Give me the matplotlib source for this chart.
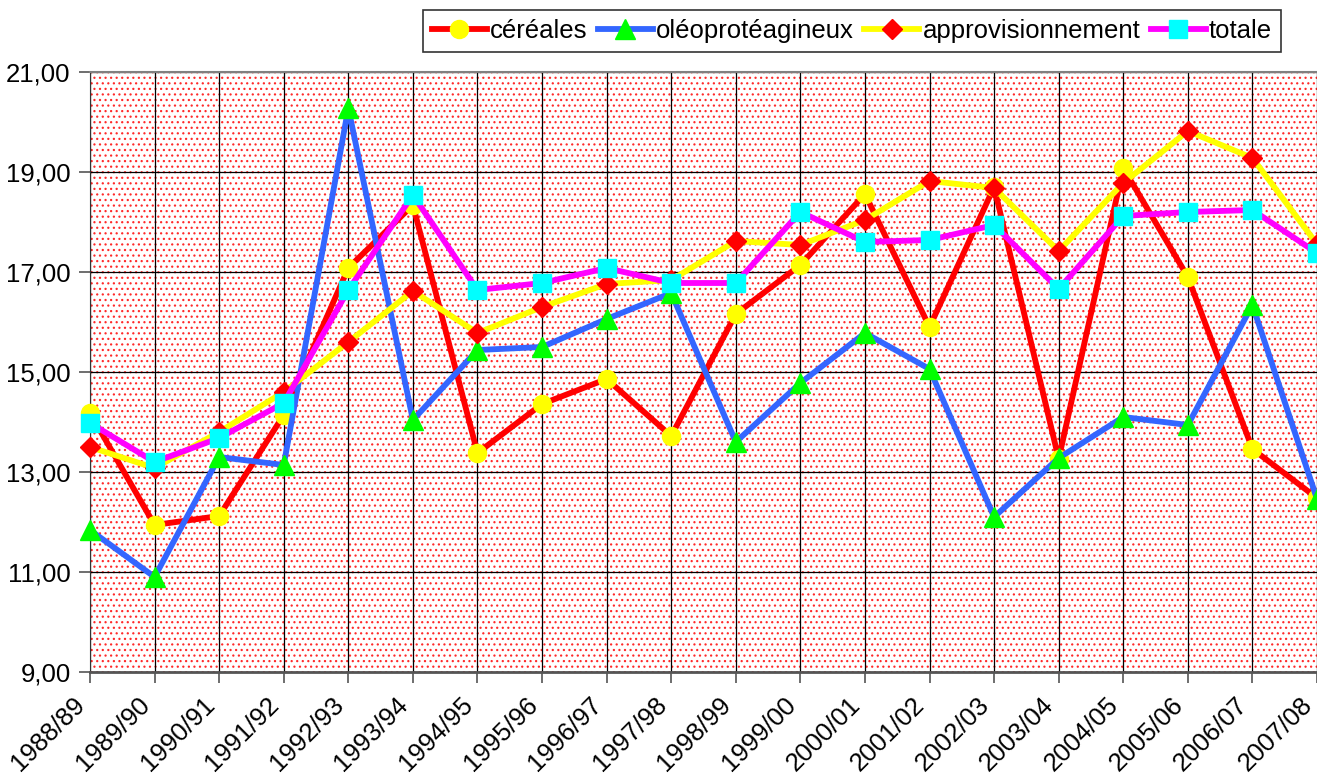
import matplotlib.pyplot as plt
from matplotlib.patches import Rectangle
from matplotlib.ticker import FuncFormatter

# campagnes
campagnes = ["1988/89", "1989/90", "1990/91", "1991/92", "1992/93", "1993/94",
             "1994/95", "1995/96", "1996/97", "1997/98", "1998/99", "1999/00",
             "2000/01", "2001/02", "2002/03", "2003/04", "2004/05", "2005/06",
             "2006/07", "2007/08"]

cereales = [14.18, 11.94, 12.12, 14.14, 17.08, 18.34, 13.38, 14.36, 14.86, 13.72,
            16.16, 17.14, 18.56, 15.90, 18.70, 13.26, 19.08, 16.90, 13.46, 12.48]
oleoproteagineux = [11.84, 10.90, 13.30, 13.14, 20.28, 14.04, 15.44, 15.50, 16.06, 16.58,
                    13.60, 14.78, 15.78, 15.06, 12.10, 13.28, 14.10, 13.94, 16.34, 12.46]
approvisionnement = [13.50, 13.08, 13.80, 14.60, 15.60, 16.62, 15.78, 16.30, 16.76, 16.84,
                     17.62, 17.54, 18.04, 18.82, 18.68, 17.42, 18.78, 19.82, 19.28, 17.56]
totale = [13.98, 13.20, 13.68, 14.38, 16.64, 18.54, 16.64, 16.78, 17.08, 16.78,
          16.78, 18.20, 17.60, 17.64, 17.94, 16.66, 18.12, 18.20, 18.24, 17.38]

plt.rcParams['font.family'] = ['Liberation Sans', 'DejaVu Sans']
plt.rcParams['hatch.linewidth'] = 0.85
fs = 18.5

fig = plt.figure(figsize=(13.17, 7.78), dpi=100)
ax = fig.add_axes([90 / 1317, 1 - 672 / 778, 1227 / 1317, 600 / 778])

# fond à pois rouges
ax.set_facecolor('white')
ax.add_patch(Rectangle((0, 0), 1, 1, transform=ax.transAxes, facecolor='white',
                       edgecolor='#ff2a2a', hatch='...', lw=0, zorder=0))

x = list(range(len(campagnes)))
series = [
    ("céréales", cereales, '#ff0000', 'o', '#ffff00', 13),
    ("oléoprotéagineux", oleoproteagineux, '#3366ff', '^', '#00ff00', 14),
    ("approvisionnement", approvisionnement, '#ffff00', 'D', '#ff0000', 10),
    ("totale", totale, '#ff00ff', 's', '#00ffff', 13),
]
for i, (nom, vals, col, mk, mcol, ms) in enumerate(series):
    ax.plot(x, vals, color=col, lw=4.2, marker=mk, markersize=ms,
            markerfacecolor=mcol, markeredgecolor=mcol, label=nom,
            clip_on=False, zorder=3 + i)

ax.set_xlim(0, len(campagnes) - 1)
ax.set_ylim(9, 21)
ax.set_yticks([9, 11, 13, 15, 17, 19, 21])
ax.yaxis.set_major_formatter(FuncFormatter(lambda v, p: f"{v:.2f}".replace('.', ',')))
ax.set_xticks(x)
ax.set_xticklabels(campagnes, rotation=45, ha='right', va='top')

ax.grid(True, color='black', lw=0.9, zorder=1)
ax.set_axisbelow(True)
ax.tick_params(axis='both', labelsize=fs, color='#555555', width=1.2)
ax.tick_params(axis='y', length=8, pad=6)
ax.tick_params(axis='x', length=8, pad=7)

ax.spines['right'].set_visible(False)
ax.spines['top'].set_color('#808080')
ax.spines['top'].set_linewidth(1.5)
ax.spines['left'].set_color('#333333')
ax.spines['bottom'].set_color('#555555')
ax.spines['bottom'].set_linewidth(2)

leg = fig.legend(loc='upper right', bbox_to_anchor=(1281 / 1317, 1 - 10 / 778),
                 ncol=4, fontsize=fs, frameon=True, fancybox=False,
                 edgecolor='black', handlelength=2.15, handletextpad=0.12,
                 columnspacing=0.4, borderpad=0.35, borderaxespad=0)
leg.get_frame().set_linewidth(1.2)

fig.savefig("out.png", dpi=100)
